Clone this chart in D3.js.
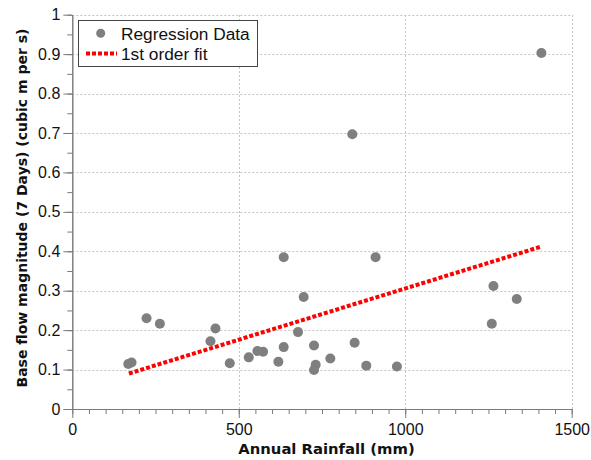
<!DOCTYPE html>
<html><head><meta charset="utf-8">
<script src="https://cdn.jsdelivr.net/npm/d3@7"></script>
<style>body{margin:0;background:#fff}svg{display:block}</style>
</head><body>
<svg id="c" width="591" height="460"></svg>
<script>
const rainfall = [168,178,223,263,415,430,473,530,556,573,619,635,635,678,695,726,731,726,775,848,841,883,911,975,1265,1260,1335,1409];
const baseflow = [0.114,0.118,0.230,0.216,0.172,0.204,0.116,0.131,0.147,0.145,0.120,0.385,0.157,0.195,0.284,0.161,0.112,0.099,0.128,0.168,0.697,0.110,0.385,0.108,0.312,0.216,0.279,0.903];
const fitX = [170,1409];
const fitY = [0.090,0.412];
const xTicks = [0,500,1000,1500];
const yTicks = [0,0.1,0.2,0.3,0.4,0.5,0.6,0.7,0.8,0.9,1];
const seriesNames = ["Regression Data","1st order fit"];
const xTitle = "Annual Rainfall (mm)";
const yTitle = "Base flow magnitude (7 Days) (cubic m per s)";

const svg = d3.select("#c");
const x = d3.scaleLinear().domain([0,1500]).range([72.3,571.7]);
const y = d3.scaleLinear().domain([0,1]).range([409,14.7]);

// grid
const grid = svg.append("g").attr("stroke","#c4c4c4").attr("stroke-width",1).attr("stroke-dasharray","2,2");
grid.selectAll("line.h").data(yTicks.filter(d=>d>0)).join("line")
  .attr("x1",x(0)).attr("x2",x(1500)).attr("y1",d=>Math.round(y(d))+0.5).attr("y2",d=>Math.round(y(d))+0.5);
grid.selectAll("line.v").data(xTicks.filter(d=>d>0)).join("line")
  .attr("y1",y(0)).attr("y2",y(1)).attr("x1",d=>Math.round(x(d))+0.5).attr("x2",d=>Math.round(x(d))+0.5);

// axes
const axColor = "#7a7a7a";
const xMinor = d3.range(0,1501,50);
const yMinor = d3.range(0,1.0001,0.05);
const gx = svg.append("g").attr("transform",`translate(0,${y(0)})`);
gx.call(d3.axisBottom(x).tickValues(xMinor).tickSize(5).tickSizeOuter(0).tickFormat(""));
gx.append("g").call(d3.axisBottom(x).tickValues(xTicks).tickSize(9).tickSizeOuter(0).tickPadding(6).tickFormat(d3.format("d")));
gx.selectAll("path,line").attr("stroke",axColor);
gx.selectAll("text").attr("font-family","Liberation Sans, Arial, sans-serif").attr("font-size",16).attr("fill","#111");

const gy = svg.append("g").attr("transform",`translate(${x(0)},0)`);
gy.call(d3.axisLeft(y).tickValues(yMinor).tickSize(5).tickSizeOuter(0).tickFormat(""));
gy.append("g").call(d3.axisLeft(y).tickValues(yTicks).tickSize(9).tickSizeOuter(0).tickPadding(3).tickFormat(d=>d3.format("")(+d.toFixed(1))));
gy.selectAll("path,line").attr("stroke",axColor);
gy.selectAll("text").attr("font-family","Liberation Sans, Arial, sans-serif").attr("font-size",16).attr("fill","#111");

// points
svg.append("g").selectAll("circle").data(rainfall.map((r,i)=>[r,baseflow[i]])).join("circle")
  .attr("cx",d=>x(d[0])).attr("cy",d=>y(d[1])).attr("r",5).attr("fill","#7f7f7f");

// fit line
svg.append("path").datum(fitX.map((v,i)=>[v,fitY[i]]))
  .attr("d",d3.line().x(d=>x(d[0])).y(d=>y(d[1])))
  .attr("stroke","#ff0000").attr("stroke-width",4).attr("stroke-dasharray","4,2").attr("fill","none");

// legend
const lg = svg.append("g");
lg.append("rect").attr("x",78.5).attr("y",20.5).attr("width",179).attr("height",46).attr("fill","#fff").attr("stroke","#444");
lg.append("circle").attr("cx",100.7).attr("cy",33.3).attr("r",4.5).attr("fill","#7f7f7f");
lg.append("line").attr("x1",86).attr("x2",117).attr("y1",53.5).attr("y2",53.5).attr("stroke","#ff0000").attr("stroke-width",4).attr("stroke-dasharray","4,2");
lg.selectAll("text").data(seriesNames).join("text")
  .attr("x",121).attr("y",(d,i)=>39.5+i*20.5).text(d=>d)
  .attr("font-family","Liberation Sans, Arial, sans-serif").attr("font-size",17.3).attr("fill","#111");

// titles
svg.append("text").attr("x",326.5).attr("y",454).attr("text-anchor","middle")
  .attr("font-family","DejaVu Sans, Verdana, sans-serif").attr("font-weight","bold").attr("font-size",14.8).attr("fill","#111").text(xTitle);
svg.append("text").attr("transform","translate(26.5,208) rotate(-90)").attr("text-anchor","middle")
  .attr("font-family","DejaVu Sans, Verdana, sans-serif").attr("font-weight","bold").attr("font-size",14).attr("fill","#111").text(yTitle);
</script>
</body></html>
